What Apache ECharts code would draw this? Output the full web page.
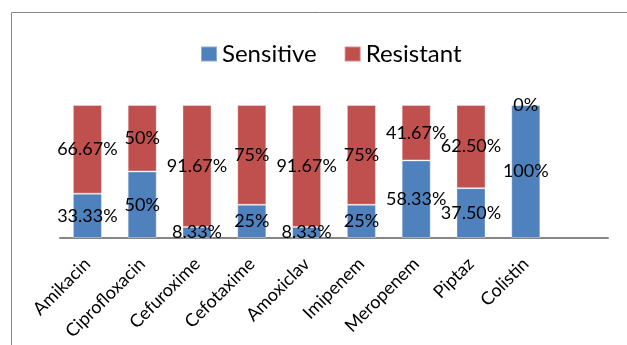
<!DOCTYPE html>
<html>
<head>
<meta charset="utf-8">
<script src="https://cdn.jsdelivr.net/npm/echarts@6/dist/echarts.min.js"></script>
<style>
  html, body { margin: 0; padding: 0; background: #fff; }
  #chart { width: 627px; height: 345px; }
</style>
</head>
<body>
<div id="chart"></div>
<script>
// Antibiotic susceptibility, percent of isolates
const categories = ['Amikacin', 'Ciprofloxacin', 'Cefuroxime', 'Cefotaxime', 'Amoxiclav',
                    'Imipenem', 'Meropenem', 'Piptaz', 'Colistin', ''];
const sensitive = [33.33, 50, 8.33, 25, 8.33, 25, 58.33, 37.5, 100, null];
const resistant = [66.67, 50, 91.67, 75, 91.67, 75, 41.67, 62.5, 0, null];
const sensitiveLabels = ['33.33%', '50%', '8.33%', '25%', '8.33%', '25%', '58.33%', '37.50%', '100%', ''];
const resistantLabels = ['66.67%', '50%', '91.67%', '75%', '91.67%', '75%', '41.67%', '62.50%', '0%', ''];

const FONT = 'Lato, "Open Sans", sans-serif';
const chart = echarts.init(document.getElementById('chart'), null, { renderer: 'canvas' });

function labelFor(texts) {
  return {
    show: true,
    position: 'inside',
    color: '#000',
    fontFamily: FONT,
    fontSize: 18,
    formatter: p => texts[p.dataIndex]
  };
}

chart.setOption({
  animation: false,
  backgroundColor: '#fff',
  graphic: [{
    type: 'rect',
    shape: { x: 11.5, y: 12.5, width: 700, height: 400 },
    style: { fill: 'none', stroke: '#868686', lineWidth: 1 },
    silent: true,
    z: -10
  }],
  legend: {
    top: 37,
    left: 195,
    itemWidth: 16,
    itemHeight: 15,
    itemGap: 27,
    icon: 'rect',
    textStyle: { fontFamily: FONT, fontSize: 24, color: '#000' },
    data: ['Sensitive', 'Resistant']
  },
  grid: { left: 60, right: 19, top: 105, bottom: 107, containLabel: false },
  xAxis: {
    type: 'category',
    data: categories,
    axisLine: { lineStyle: { color: '#868686', width: 2 } },
    axisTick: { show: false },
    axisLabel: {
      interval: 0,
      rotate: 45,
      margin: 23,
      color: '#000',
      fontFamily: FONT,
      fontSize: 18
    }
  },
  yAxis: {
    type: 'value',
    min: 0,
    max: 100,
    show: false,
    splitLine: { show: false }
  },
  series: [
    {
      name: 'Sensitive',
      type: 'bar',
      stack: 'total',
      barWidth: '53%',
      data: sensitive,
      itemStyle: { color: '#4F81BD', borderColor: 'rgba(255,255,255,0.35)', borderWidth: 1 },
      label: labelFor(sensitiveLabels)
    },
    {
      name: 'Resistant',
      type: 'bar',
      stack: 'total',
      data: resistant,
      itemStyle: { color: '#C0504D', borderColor: 'rgba(255,255,255,0.35)', borderWidth: 1 },
      label: labelFor(resistantLabels)
    }
  ]
});
</script>
</body>
</html>
